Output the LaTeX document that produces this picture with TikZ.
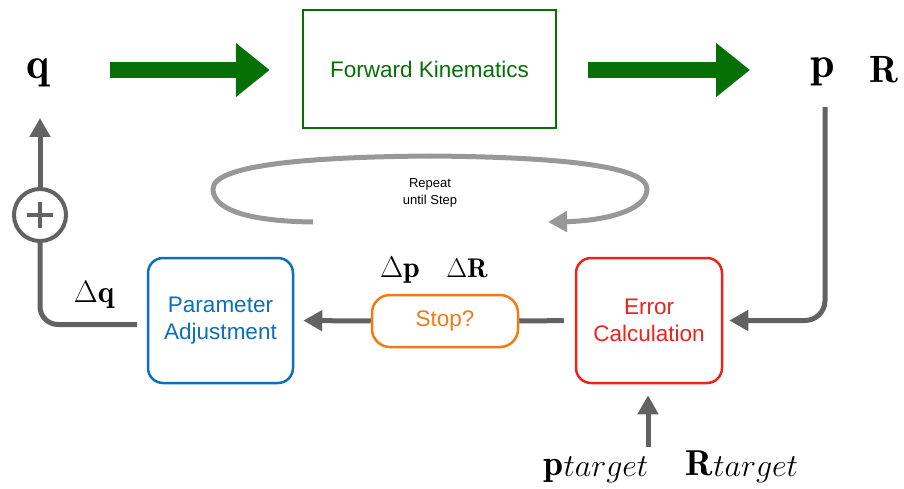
\RequirePackage{fix-cm}
\documentclass[tikz,border=0pt]{standalone}
\usepackage{amsmath,bm}
\usepackage{fontspec}
\setsansfont{Liberation Sans}
\usetikzlibrary{arrows.meta}
\definecolor{fkgreen}{RGB}{6,112,6}
\definecolor{pblue}{RGB}{10,112,186}
\definecolor{sorange}{RGB}{240,122,20}
\definecolor{ered}{RGB}{235,35,25}
\definecolor{linegray}{RGB}{98,98,98}
\definecolor{loopgray}{RGB}{152,152,152}
\newcommand\fsz[1]{\fontsize{#1}{#1}\selectfont}
\newcommand\tgtsub{{\fsz{32}\raisebox{-1pt}{$target$}}}
\begin{document}
\begin{tikzpicture}[x=1pt,y=-1pt,
  lbl/.style={inner sep=0pt,anchor=base},
  bigarrow/.style={draw=fkgreen,line width=16pt,-{Triangle[length=34pt,width=52pt]}},
  conn/.style={draw=linegray,line width=5pt,-{Triangle[length=19pt,width=20pt]}},
  plainline/.style={draw=linegray,line width=5pt},
  box/.style={draw,line width=2.5pt,font=\sffamily\fontsize{22.5}{27}\selectfont,align=center,inner sep=0pt},
]
\useasboundingbox (0,0) rectangle (904,489);

% labels
\node[lbl,font=\fsz{44}] (q) at (38,79) {$\mathbf{q}$};
\node[lbl,font=\fsz{44}] (p) at (823,78) {$\mathbf{p}$};
\node[lbl,font=\fsz{38}] (R) at (884,83) {$\mathbf{R}$};
\node[lbl,font=\fsz{31}] (dq) at (94,302) {$\Delta\mathbf{q}$};
\node[lbl,font=\fsz{30}] (dp) at (400,277) {$\Delta\mathbf{p}$};
\node[lbl,font=\fsz{27}] (dR) at (467,277) {$\Delta\mathbf{R}$};
\node[lbl,font=\fsz{36}] (pt) at (596,475) {$\mathbf{p}$\tgtsub};
\node[lbl,font=\fsz{36}] (Rt) at (742,475) {$\mathbf{R}$\tgtsub};

% boxes
\node[box,draw=fkgreen,text=fkgreen,minimum width=253pt,minimum height=118pt] (fk) at (429.5,69) {Forward Kinematics};
\node[box,draw=ered,text=ered,rounded corners=15pt,minimum width=146pt,minimum height=125pt] (err) at (649,320.5) {Error\\Calculation};
\node[box,draw=pblue,text=pblue,rounded corners=15pt,minimum width=145pt,minimum height=125pt] (param) at (220.5,320.5) {Parameter\\Adjustment};
\node[box,draw=sorange,text=sorange,rounded corners=18pt,minimum width=146pt,minimum height=52pt] (stop) at (445,321) {Stop?};

% summing junction
\node[circle,draw=linegray,line width=4pt,minimum size=52pt,inner sep=0pt] (sum) at (40,215) {};
\draw[linegray,line width=4pt] ([xshift=-13pt]sum.center) -- ([xshift=13pt]sum.center)
  ([yshift=-13pt]sum.center) -- ([yshift=13pt]sum.center);

% big green arrows
\coordinate (a1s) at (110,70);
\coordinate (a2s) at (588,70);
\draw[bigarrow,shorten >=32pt] (a1s) -- (fk.west |- a1s);
\coordinate (a2e) at (750,70);
\draw[bigarrow] (a2s) -- (a2e);

% connectors
\coordinate (pdown) at (825,107);
\draw[conn,rounded corners=20pt,shorten >=6pt] (pdown) |- (err.east);
\coordinate (tgt) at (648,447);
\draw[conn,shorten >=11pt] (tgt) -- (err.south -| tgt);
\draw[plainline,shorten <=11pt] (err.west) -- (stop.east);
\draw[conn,shorten >=9pt] (stop.west) -- (param.east);
\draw[plainline,rounded corners=18pt] ([xshift=-10pt,yshift=-4pt]param.west) -| (sum.south);
\coordinate (qin) at (40,118);
\draw[conn] (sum.north) -- (qin);

% repeat loop
\draw[draw=loopgray,line width=5pt,-{Triangle[length=19pt,width=20pt]}]
  (313,222) .. controls (240,221) and (213,207) .. (213,189)
  .. controls (213,166) and (300,157) .. (430,156)
  .. controls (560,157) and (647,166) .. (647,189)
  .. controls (647,212) and (600,221) .. (548,222);
\node[font=\sffamily\fontsize{13}{17}\selectfont,align=center] (rep) at (430,193) {Repeat\\until Step};
\end{tikzpicture}
\end{document}
